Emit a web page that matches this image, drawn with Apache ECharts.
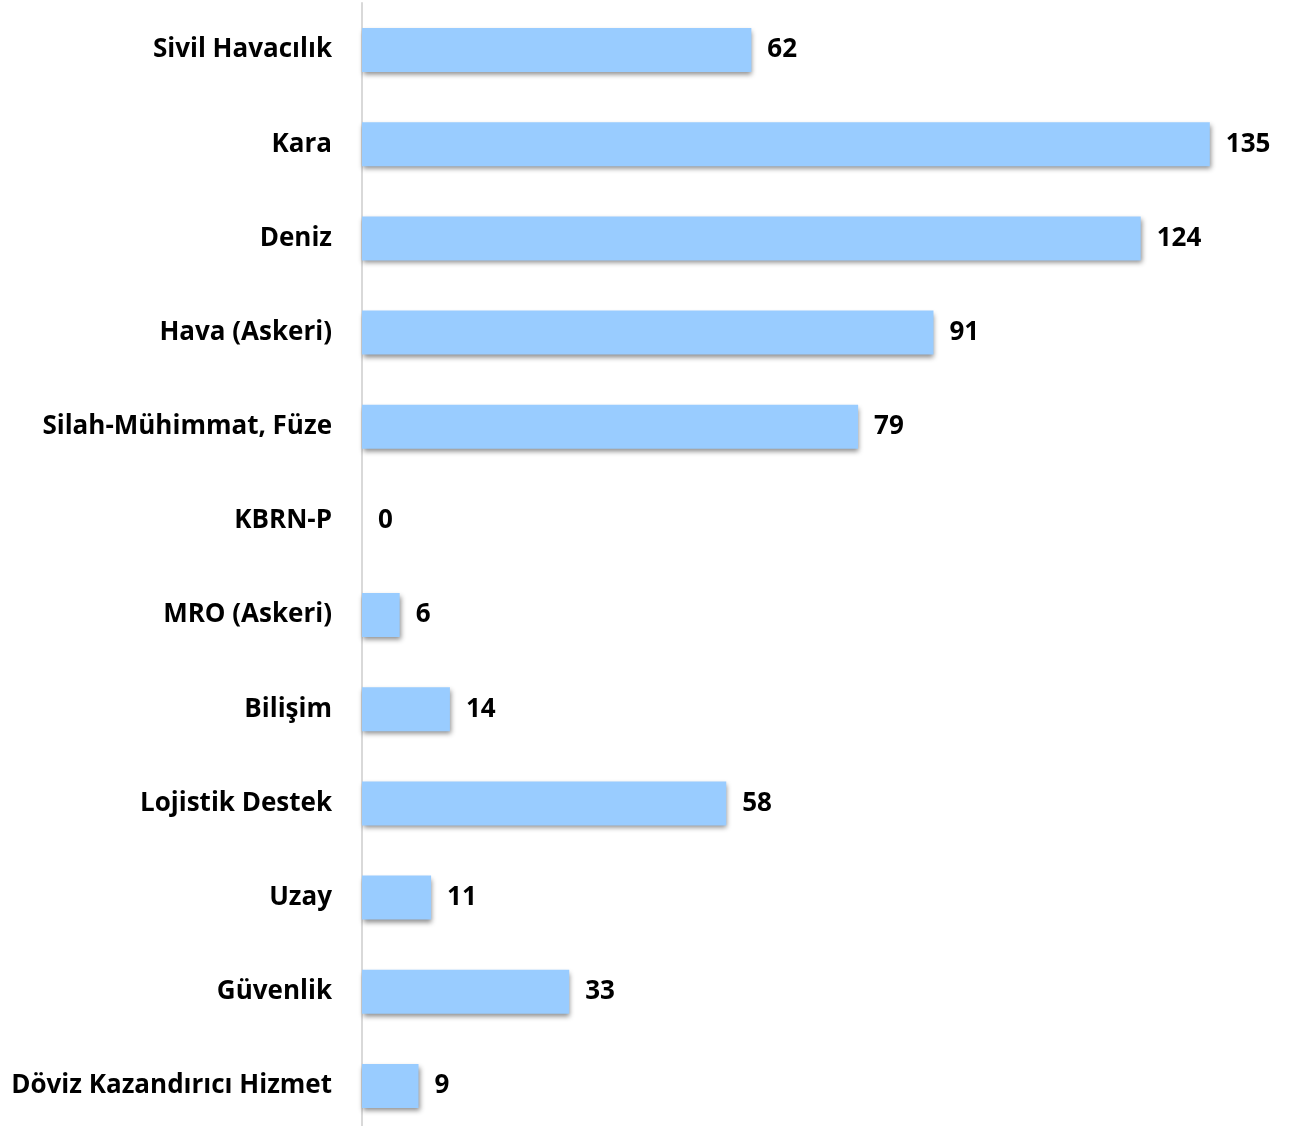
<!DOCTYPE html>
<html><head><meta charset="utf-8">
<script src="https://cdn.jsdelivr.net/npm/echarts@6/dist/echarts.min.js"></script>
<style>html,body{margin:0;padding:0;background:#fff}#c{width:1292px;height:1126px}</style>
</head><body><div id="c"></div>
<script>
const categories = ["Sivil Havacılık","Kara","Deniz","Hava (Askeri)","Silah-Mühimmat, Füze","KBRN-P","MRO (Askeri)","Bilişim","Lojistik Destek","Uzay","Güvenlik","Döviz Kazandırıcı Hizmet"];
const values = [62,135,124,91,79,0,6,14,58,11,33,9];

const chart = echarts.init(document.getElementById('c'));
const font = '"Open Sans", sans-serif';
chart.setOption({
  animation:false,
  grid:{left:362, top:3, width:879.2, height:1130, containLabel:false, outerBoundsMode:'none'},
  xAxis:{type:'value', min:0, max:140, show:false},
  yAxis:{type:'category', inverse:true, data:categories,
    axisLine:{show:true, lineStyle:{color:'#d9d9d9', width:2}},
    axisTick:{show:false},
    axisLabel:{margin:30, color:'#000', fontWeight:'bold', fontSize:26, fontFamily:font, padding:[4,0,0,0]}},
  series:[{type:'bar', data:values, barWidth:44,
    itemStyle:{color:'#99ccff', shadowColor:'rgba(0,0,0,0.45)', shadowBlur:5, shadowOffsetX:1, shadowOffsetY:3},
    label:{show:true, position:'right', distance:16, color:'#000', fontWeight:'bold', fontSize:26, fontFamily:font, padding:[4,0,0,0]}}]
});
</script></body></html>
